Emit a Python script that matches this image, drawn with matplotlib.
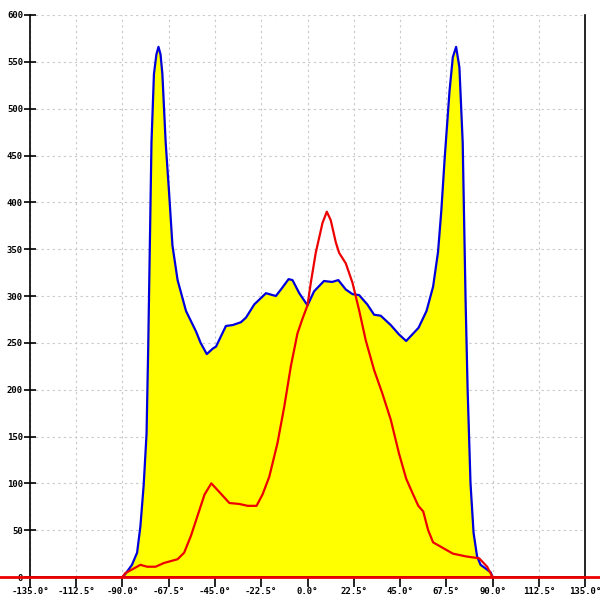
import numpy as np
import matplotlib
matplotlib.use('Agg')
import matplotlib.pyplot as plt

# blue curve (filled yellow)
blue_angle = [-90, -88.7, -85.4, -82.9, -81.3, -79.7, -78.3, -77.5, -76.7, -75.9,
              -74.7, -73.5, -72.5, -71.5, -70.6, -69, -67.3, -65.7, -63.2, -59.1,
              -54.2, -52, -49, -46, -44.5, -42.1, -39.7, -36.4, -32.4, -29.9,
              -25.9, -20.2, -15.4, -12.9, -9.2, -7.3, -4, 0, 3.2, 8,
              12, 15, 18.6, 21.9, 25.1, 29.1, 32.4, 35.6, 40.5, 44.5,
              48, 51, 54, 57.9, 61.1, 63.5, 65.1, 66.7, 69.1, 70.7,
              72.3, 73.9, 75.5, 76.9, 77.9, 79.3, 80.8, 82.5, 84.2, 86.7,
              89.1, 90]
blue_value = [0, 3, 13, 26, 54, 98, 153, 244, 354, 464,
              537, 558, 566, 558, 537, 464, 409, 354, 317, 284,
              262, 250, 238, 244, 246, 257, 268, 269, 272, 277,
              291, 303, 300, 307, 318, 317, 303, 290, 305, 316,
              315, 317, 307, 302, 301, 291, 280, 279, 269, 259,
              252, 259, 266, 284, 310, 347, 391, 446, 519, 555,
              566, 544, 464, 296, 200, 100, 47, 22, 13, 9,
              5, 0]

# red curve
red_angle = [-90, -88.7, -85.4, -81.3, -78, -73.9, -69.8, -66.5, -63.2, -60,
             -56.7, -53.4, -50.1, -46.8, -43, -38, -33.2, -29.1, -24.8, -21.9,
             -18.6, -14.6, -11.3, -8.1, -4.9, -2.4, 0, 1.6, 4, 7.3,
             9.4, 11.3, 13.8, 15.4, 18.6, 21.9, 25.1, 28.3, 32.4, 36.4,
             40.5, 44.5, 48, 51, 53.9, 56.3, 58.7, 61.1, 65.9, 70.7,
             77.1, 83.5, 87.4, 90]
red_value = [0, 4, 8, 13, 11, 11, 15, 17, 19, 26,
             44, 66, 88, 100, 91, 79, 78, 76, 76, 88,
             107, 143, 182, 225, 260, 276, 290, 314, 346, 378,
             390, 381, 357, 346, 335, 314, 285, 253, 221, 196,
             168, 132, 105, 90, 76, 70, 50, 37, 31, 25,
             22, 20, 11, 0]

x_ticks = np.arange(-135, 135.1, 22.5)
y_ticks = np.arange(0, 601, 50)

fig = plt.figure(figsize=(6, 6), dpi=100)
ax = fig.add_axes([0.05, 0.0383, 0.925, 0.9367])

ax.fill_between(blue_angle, blue_value, 0, color='#ffff00', lw=0, zorder=2)
ax.plot(blue_angle, blue_value, color='#0000dd', lw=1.6, zorder=3)
ax.plot(red_angle, red_value, color='#ee0000', lw=1.6, zorder=4)
ax.axhline(0, xmin=-0.055, xmax=1.03, color='#ee0000', lw=2, clip_on=False, zorder=5)

ax.set_xlim(-135, 135)
ax.set_ylim(0, 600)
ax.set_xticks(x_ticks)
ax.set_xticklabels([f'{v:.1f}°' for v in x_ticks])
ax.set_yticks(y_ticks)
ax.set_yticklabels([str(v) for v in y_ticks])

ax.grid(True, color='#c8c8c8', linestyle=(0, (2, 3)), lw=0.8, zorder=1)
ax.set_axisbelow(True)

ax.spines['top'].set_visible(False)
for s in ['left', 'right', 'bottom']:
    ax.spines[s].set_color('black')
    ax.spines[s].set_linewidth(1.2)

ax.tick_params(axis='x', direction='out', length=7, width=1.2, pad=0.5,
               labelsize=6.5)
ax.tick_params(axis='y', direction='inout', length=8, width=1.2, pad=1,
               labelsize=6.5)
for lab in ax.get_xticklabels() + ax.get_yticklabels():
    lab.set_family('DejaVu Sans Mono')
    lab.set_fontweight('bold')

fig.savefig('out.png', dpi=100)
